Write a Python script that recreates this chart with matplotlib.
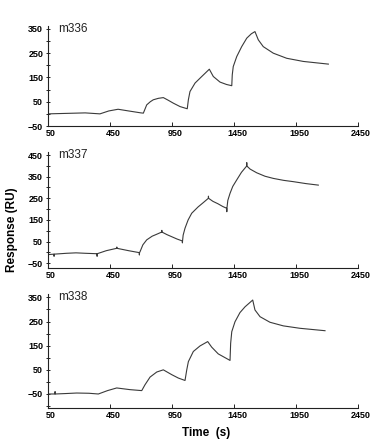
import matplotlib
matplotlib.use("Agg")
import matplotlib.pyplot as plt
import matplotlib.transforms as mtransforms
from matplotlib.ticker import MultipleLocator

plt.rcParams['font.family'] = ['Liberation Sans', 'DejaVu Sans']

# tick positions are evenly spaced on the original axis, labels as printed
x_ticks = [-50, 450, 950, 1450, 1950, 2450]
x_labels = ['50', '450', '950', '1450', '1950', '2450']

names = ['m336', 'm337', 'm338']

# m336
t1 = [-50, 100, 250, 369, 440, 515, 600, 700, 719, 746, 775, 799, 840, 880,
      920, 961, 1015, 1073, 1082, 1095, 1136, 1190, 1251, 1283, 1337, 1390, 1432,
      1436, 1444, 1472, 1512, 1553, 1590, 1619, 1646, 1686, 1767, 1875, 2009, 2211]
r1 = [0, 2, 4, 0, 12, 19, 12, 4, 3, 37, 50, 58, 64, 67,
      56, 44, 30, 21, 58, 92, 127, 154, 184, 154, 131, 121, 116,
      161, 195, 236, 277, 312, 330, 339, 305, 277, 250, 229, 216, 205]

# m337 (small spikes at injection start/stop kept as in the trace)
t2 = [-48, -2, -1, 0, 100, 176, 250, 345, 346, 347, 420, 504, 505, 506, 600, 686,
      687, 688, 692, 715, 746, 790, 827, 867, 868, 869, 910, 950, 990, 1033, 1034,
      1035, 1040, 1055, 1080, 1109, 1160, 1202, 1243, 1244, 1245, 1280, 1320, 1360,
      1391, 1392, 1393, 1400, 1418, 1440, 1472, 1510, 1552, 1553, 1554, 1580, 1633,
      1700, 1767, 1850, 1928, 2030, 2130]
r2 = [-10, -8, -18, -8, -4, -2, -4, -6, -18, -6, 8, 19, 25, 19, 8, -1,
      -12, -1, 3, 35, 58, 75, 84, 94, 102, 94, 82, 72, 62, 53, 44,
      53, 80, 112, 150, 181, 210, 230, 250, 260, 250, 236, 225, 212,
      204, 188, 204, 240, 273, 305, 335, 370, 399, 415, 399, 385, 368,
      352, 342, 333, 327, 318, 311]

# m338
t3 = [-48, 6, 7, 8, 100, 181, 280, 356, 430, 504, 611, 706, 732, 773, 827, 880,
      948, 1001, 1055, 1069, 1082, 1122, 1176, 1238, 1270, 1323, 1418, 1423, 1432,
      1458, 1498, 1539, 1601, 1619, 1660, 1740, 1848, 1982, 2184]
r3 = [-50, -50, -40, -50, -48, -46, -47, -50, -36, -25, -32, -36, -12, 20, 41, 50,
      30, 16, 6, 50, 84, 126, 149, 167, 144, 116, 89, 160, 208,
      249, 287, 311, 339, 298, 270, 247, 232, 222, 212]

times = [t1, t2, t3]
resp = [r1, r2, r3]
ylims = [(-50, 362), (-72, 464), (-108, 364)]
ymax_tick = [350, 450, 350]

W, H = 379, 447
fig = plt.figure(figsize=(W / 100, H / 100), dpi=100)

# axes boxes in pixels: (left, right, top, bottom)
boxes = [(48, 358, 26, 126), (48, 358, 152, 268), (48, 358, 294, 408)]

for i in range(3):
    l, r, t, b = boxes[i]
    ax = fig.add_axes([l / W, 1 - b / H, (r - l) / W, (b - t) / H])
    ax.plot(times[i], resp[i], color='#3a3a3a', lw=0.8)
    ax.set_xlim(-50, 2450)
    ax.set_ylim(*ylims[i])
    ax.spines['top'].set_visible(False)
    ax.spines['right'].set_visible(False)
    for s in ['left', 'bottom']:
        ax.spines[s].set_linewidth(0.8)
        ax.spines[s].set_color('#222222')
    ax.set_xticks(x_ticks)
    ax.set_xticklabels(x_labels)
    ax.set_yticks(list(range(-50, ymax_tick[i] + 1, 100)))
    ax.yaxis.set_minor_locator(MultipleLocator(50))
    ax.tick_params(axis='x', direction='in', length=3, width=0.7, pad=2,
                   labelsize=6.5, color='#222222')
    ax.tick_params(axis='y', which='both', direction='inout', length=3, width=0.7,
                   pad=2, labelsize=6.5, color='#222222')
    for lab in ax.get_xticklabels() + ax.get_yticklabels():
        lab.set_fontweight('bold')
    offset = mtransforms.ScaledTranslation(3 / 100, 0, fig.dpi_scale_trans)
    for lab in ax.get_xticklabels():
        lab.set_transform(lab.get_transform() + offset)
    ax.text(0.032, 0.97, names[i], transform=ax.transAxes, fontsize=8.5,
            ha='left', va='center', color='#222222')

fig.text(206 / W, 1 - 433 / H, 'Time  (s)', fontsize=8.5, fontweight='bold',
         ha='center', va='center')
fig.text(12 / W, 1 - 230 / H, 'Response (RU)', fontsize=8.5, fontweight='bold',
         ha='center', va='center', rotation=90)

fig.savefig('out.png', dpi=100)
